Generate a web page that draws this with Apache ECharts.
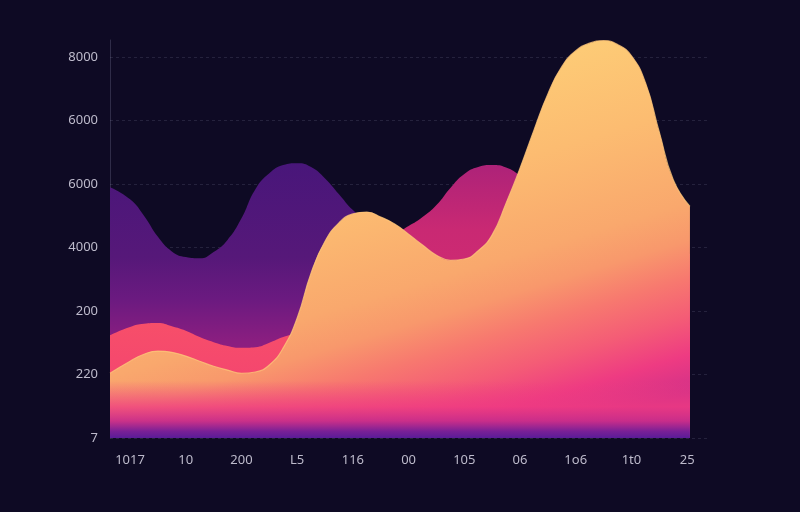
<!DOCTYPE html>
<html>
<head>
<meta charset="utf-8">
<script src="https://cdn.jsdelivr.net/npm/echarts@6/dist/echarts.min.js"></script>
<style>
html,body{margin:0;padding:0;background:#0e0a24;}
#c{width:800px;height:512px;}
</style>
</head>
<body>
<div id="c"></div>
<script>
const xLabels = ["1017", "10", "200", "L5", "116", "00", "105", "06", "1o6", "1t0", "25"];
const yLabels = ["7", "220", "200", "4000", "6000", "6000", "8000"];
const xPos = [-0.36, 0, 0.25, 0.5, 0.75, 1, 1.25, 1.5, 1.75, 2, 2.25, 2.5, 2.75, 3, 3.25, 3.5, 3.75, 4, 4.25, 4.5,
  4.75, 5, 5.25, 5.5, 5.75, 6, 6.25, 6.5, 6.75, 7, 7.25, 7.5, 7.75, 8, 8.25, 8.5, 8.75, 9, 9.25, 9.5, 9.75, 10.05];
const purpleVals = [3.95, 3.76, 3.50, 3.17, 2.94, 2.85, 2.83, 2.93, 3.12, 3.46, 3.92, 4.17, 4.30, 4.33, 4.27, 4.09, 3.84, 3.59, 3.43, 3.31,
  3.24, 3.34, 3.48, 3.67, 3.94, 4.16, 4.27, 4.30, 4.26, 4.12, 3.85, 3.60, 3.45, 3.35, 3.25, 3.20, 3.15, 3.10, 3.05, 3.00, 2.95, 2.90];
const redVals = [1.62, 1.75, 1.80, 1.81, 1.76, 1.69, 1.59, 1.51, 1.45, 1.42, 1.43, 1.50, 1.59, 1.65, 1.72, 1.78, 1.83, 1.86, 1.88, 1.90,
  1.90, 1.88, 1.85, 1.83, 1.82, 1.83, 1.86, 1.90, 1.95, 2.00, 2.05, 2.08, 2.10, 2.10, 2.08, 2.05, 2.00, 1.95, 1.90, 1.85, 1.80, 1.78];
const orangeVals = [1.02, 1.21, 1.32, 1.37, 1.35, 1.29, 1.21, 1.13, 1.07, 1.02, 1.04, 1.15, 1.42, 1.89, 2.60, 3.10, 3.39, 3.53, 3.56, 3.48,
  3.37, 3.21, 3.04, 2.88, 2.80, 2.82, 2.95, 3.20, 3.70, 4.25, 4.85, 5.42, 5.85, 6.10, 6.22, 6.26, 6.20, 6.02, 5.60, 4.82, 4.07, 3.65];

const last = xPos.length - 1;
const purpleSplit = 19;
function pairs(vals, from, to) {
  const out = [];
  for (let i = from; i <= to; i++) out.push([xPos[i], vals[i]]);
  return out;
}
function grad(x1, y1, x2, y2, stops, global) {
  return {type: 'linear', x: x1, y: y1, x2: x2, y2: y2, global: !!global,
    colorStops: stops.map(s => ({offset: s[0], color: s[1]}))};
}

const chart = echarts.init(document.getElementById('c'), null, {renderer: 'canvas'});
const labelStyle = {color: '#bdbacb', fontSize: 13, fontFamily: 'Noto Sans'};
const base = {type: 'line', smooth: 0.5, symbol: 'none', silent: true, lineStyle: {width: 0}};

chart.setOption({
  backgroundColor: '#0e0a24',
  animation: false,
  grid: {left: 110, right: 90, top: 40, bottom: 74},
  xAxis: {
    type: 'value', min: -0.36, max: 10.41,
    axisLine: {show: false}, axisTick: {show: false}, splitLine: {show: false},
    axisLabel: Object.assign({}, labelStyle, {
      margin: 16, customValues: [0, 1, 2, 3, 4, 5, 6, 7, 8, 9, 10],
      formatter: v => xLabels[Math.round(v)]
    })
  },
  yAxis: {
    type: 'value', min: 0, max: 6.27, interval: 1,
    axisLine: {show: true, onZero: false, lineStyle: {color: 'rgba(170,170,200,0.22)', width: 1}},
    axisTick: {show: false},
    splitLine: {show: true, showMaxLine: false, lineStyle: {color: 'rgba(160,160,190,0.16)', type: [3, 3], width: 1}},
    axisLabel: Object.assign({}, labelStyle, {margin: 12, showMaxLabel: false,
      formatter: v => (Number.isInteger(v) && yLabels[v] !== undefined) ? yLabels[v] : ''})
  },
  series: [
    Object.assign({}, base, {
      name: 'purpleLeft', z: 1,
      data: pairs(purpleVals, 0, purpleSplit),
      areaStyle: {opacity: 1, color: grad(0, 160, 0, 438, [[0, '#48167a'], [0.35, '#561879'], [0.5, '#6b1a80'], [0.65, '#8a1e80'], [1, '#a82280']], true)}
    }),
    Object.assign({}, base, {
      name: 'purpleRight', z: 1,
      data: pairs(purpleVals, purpleSplit, last),
      areaStyle: {opacity: 1, color: grad(0, 160, 0, 438, [[0, '#ab2279'], [0.25, '#c92973'], [1, '#e03070']], true)}
    }),
    Object.assign({}, base, {
      name: 'red', z: 2,
      data: pairs(redVals, 0, last),
      areaStyle: {opacity: 1, color: grad(0, 320, 0, 438, [[0, '#f74f69'], [0.5, '#f4466f'], [1, '#e8387a']], true)}
    }),
    Object.assign({}, base, {
      name: 'orange', z: 3,
      data: pairs(orangeVals, 0, last),
      lineStyle: {width: 1.2, color: 'rgba(252,196,120,0.8)'},
      areaStyle: {opacity: 1, color: grad(400, 99, 505, 448, [
        [0, '#fdcb76'], [0.25, '#fcbc71'], [0.5, '#f9a86d'], [0.6, '#f8986c'],
        [0.7, '#f7786f'], [0.8, '#f45c76'], [0.9, '#ee3b82'], [1, '#d23088']], true)},
      markArea: {
        silent: true, z: 10,
        label: {show: false},
        itemStyle: {color: grad(0, 0, 0, 1, [
          [0, 'rgba(239,60,128,0)'], [0.45, 'rgba(238,58,130,0.75)'], [0.7, 'rgba(200,45,138,0.95)'],
          [0.88, '#7a2096'], [1, '#5a1c98']])},
        data: [[{coord: [xPos[0], 0]}, {coord: [xPos[last], 0.9]}]]
      }
    })
  ]
});
</script>
</body>
</html>
